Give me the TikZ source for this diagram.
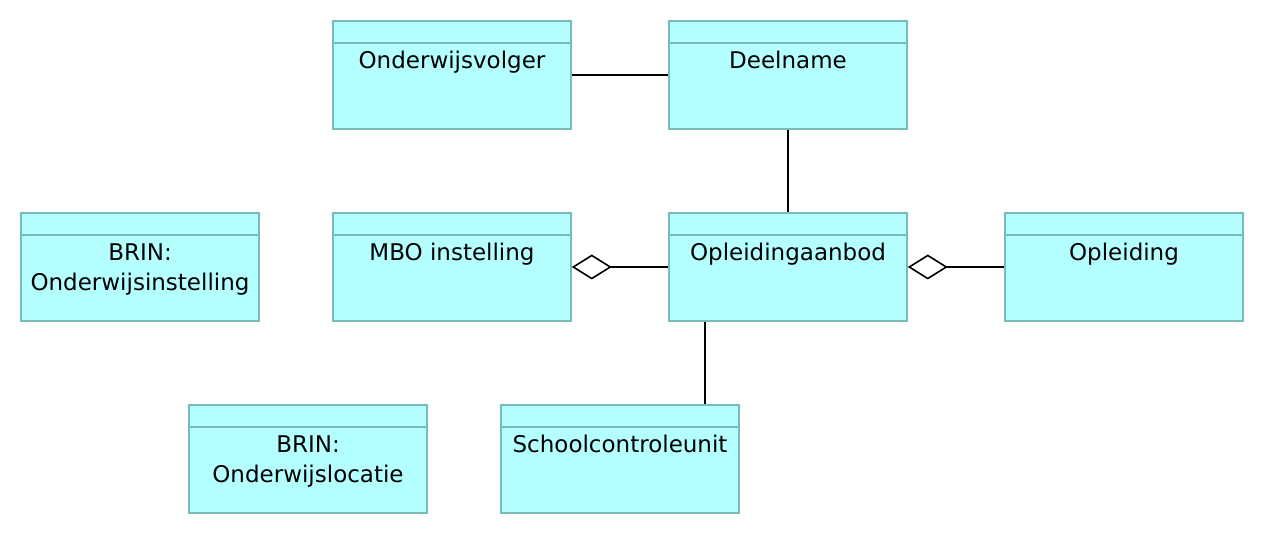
\documentclass[tikz,border=0pt]{standalone}
\usepackage{fontspec}
\setmainfont{DejaVu Sans}
\usetikzlibrary{arrows.meta}
\definecolor{boxfill}{RGB}{180,255,255}
\definecolor{boxedge}{RGB}{122,186,186}
\tikzset{
  box/.style={draw=boxedge, fill=boxfill, line width=1.5pt, minimum width=238pt, minimum height=108pt, inner sep=0pt},
  boxline/.style={draw=boxedge, line width=1.5pt},
  lbl/.style={font=\fontsize{23}{30}\selectfont, align=center, inner sep=0pt},
  conn/.style={draw=black, line width=1.6pt},
  agg/.style={conn, -{Diamond[open, length=40pt, width=25pt, line width=1.6pt]}}
}
\newcommand\umlbox[4]{%
  \node[box] (#1) at (#2,#3) {};
  \draw[boxline] ([yshift=-23pt]#1.north west) -- ([yshift=-23pt]#1.north east);
  \node[lbl, anchor=north] (#1-t) at ([yshift=-31pt]#1.north) {#4};
}
\begin{document}
\begin{tikzpicture}[x=1pt,y=-1pt]
\useasboundingbox (0,0) rectangle (1264,534);
\umlbox{volger}{452}{75}{Onderwijsvolger}
\umlbox{deel}{788}{75}{Deelname}
\umlbox{brini}{140}{267}{BRIN:\\Onderwijsinstelling}
\umlbox{mbo}{452}{267}{MBO instelling}
\umlbox{aanbod}{788}{267}{Opleidingaanbod}
\umlbox{opl}{1124}{267}{Opleiding}
\umlbox{brinl}{308}{459}{BRIN:\\Onderwijslocatie}
\umlbox{school}{620}{459}{Schoolcontroleunit}
\coordinate (sx) at (705,0);
\draw[conn] (volger.east) -- (deel.west);
\draw[conn] (deel.south) -- (aanbod.north);
\draw[agg] (aanbod.west) -- (mbo.east);
\draw[agg] (opl.west) -- (aanbod.east);
\draw[conn] (aanbod.south -| sx) -- (school.north -| sx);
\end{tikzpicture}
\end{document}
